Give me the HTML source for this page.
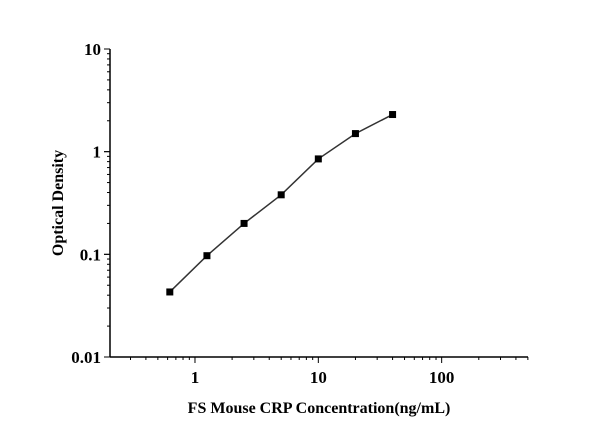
<!DOCTYPE html>
<html><head><meta charset="utf-8"><style>
body{margin:0;background:#fff;}
svg text{font-family:"Liberation Serif",serif;font-weight:bold;fill:#000;}
</style></head><body>
<svg id="c" width="614" height="430"></svg>
<script>
const concentrations=[0.625,1.25,2.5,5,10,20,40];
const densities=[0.043,0.097,0.2,0.38,0.85,1.5,2.3];
const xTickLabels=["1","10","100"];
const yTickLabels=["0.01","0.1","1","10"];
const L=110,R=528,T=49,B=357;
const xMin=-0.689,xMax=2.70,yMin=-2,yMax=1;
const sx=v=>L+(Math.log10(v)-xMin)/(xMax-xMin)*(R-L);
const sy=v=>B-(Math.log10(v)-yMin)/(yMax-yMin)*(B-T);
const svg=document.getElementById('c');
const NS='http://www.w3.org/2000/svg';
function mk(t,a,p){const e=document.createElementNS(NS,t);for(const k in a)e.setAttribute(k,a[k]);(p||svg).appendChild(e);return e;}
let e;
e=mk('line',{x1:L,y1:T,x2:L,y2:B,stroke:'#000','stroke-width':1.5});


e=mk('line',{x1:L,y1:B,x2:R,y2:B,stroke:'#000','stroke-width':1.5});


for(let d=-1;d<=2;d++){for(let m=1;m<=9;m++){const v=m*Math.pow(10,d);const lv=Math.log10(v);if(lv<xMin||lv>xMax)continue;const x=sx(v);
e=mk('line',{x1:x,y1:B,x2:x,y2:B+(m==1?6:3),stroke:'#000','stroke-width':1});

}}
xTickLabels.forEach(s=>{e=mk('text',{x:sx(parseFloat(s)),y:B+26,'text-anchor':'middle','font-size':17});e.textContent=s;

});
for(let d=-2;d<=0;d++){for(let m=1;m<=10;m++){const v=m*Math.pow(10,d);const y=sy(v);
e=mk('line',{x1:L,y1:y,x2:L-(m==1||m==10?6:3),y2:y,stroke:'#000','stroke-width':1});

}}
yTickLabels.forEach(s=>{e=mk('text',{x:L-9,y:sy(parseFloat(s))+6,'text-anchor':'end','font-size':17});e.textContent=s;

});
e=mk('polyline',{points:concentrations.map((c,i)=>sx(c)+','+sy(densities[i])).join(' '),fill:'none',stroke:'#333','stroke-width':1.5});


concentrations.forEach((c,i)=>{e=mk('rect',{x:sx(c)-3.5,y:sy(densities[i])-3.5,width:7,height:7,fill:'#000'});

});
e=mk('text',{x:319,y:413,'text-anchor':'middle','font-size':16});e.textContent='FS Mouse CRP Concentration(ng/mL)';


e=mk('text',{x:0,y:0,'text-anchor':'middle','font-size':16,transform:'translate(63,203) rotate(-90)'});e.textContent='Optical Density';


</script>
</body></html>
